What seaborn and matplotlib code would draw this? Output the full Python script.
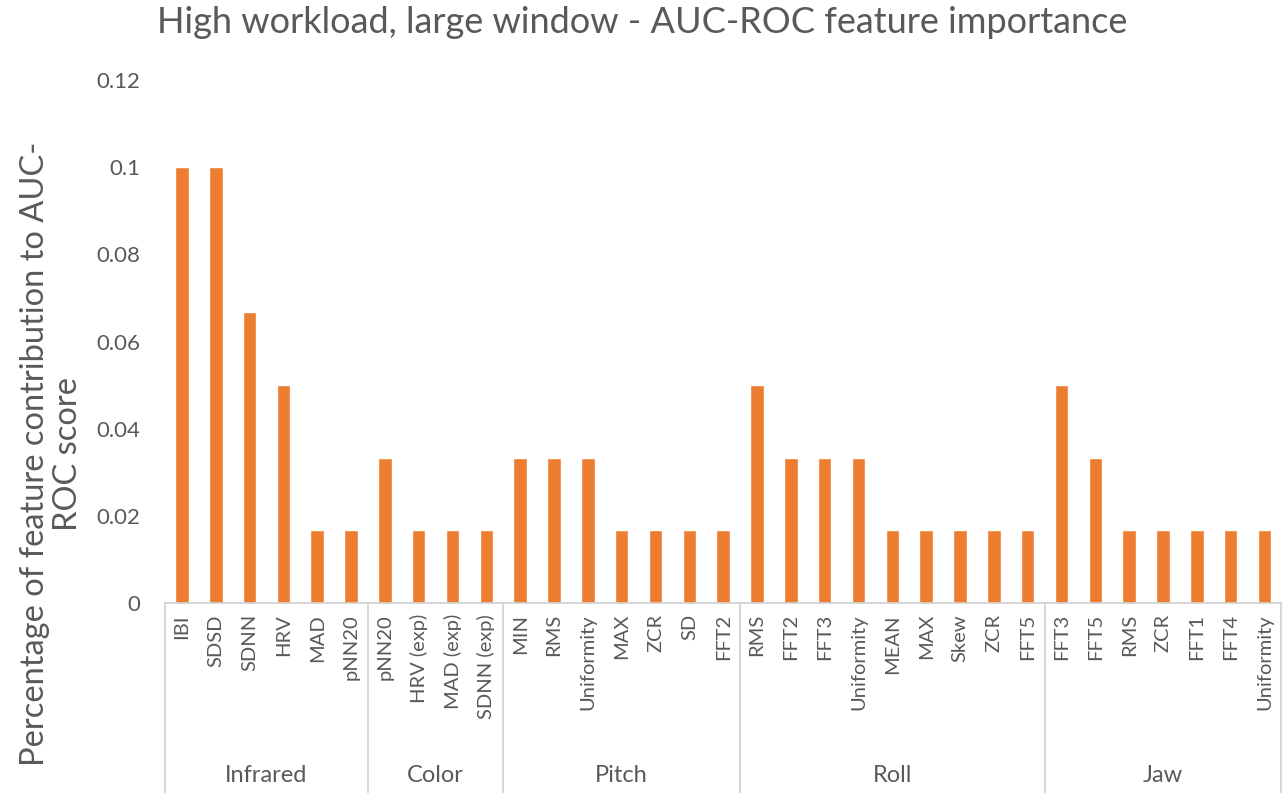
import pandas as pd
import matplotlib
matplotlib.use('Agg')
import matplotlib.pyplot as plt
import seaborn as sns

groups = ['Infrared', 'Color', 'Pitch', 'Roll', 'Jaw']
features = [
    ['IBI', 'SDSD', 'SDNN', 'HRV', 'MAD', 'pNN20'],
    ['pNN20', 'HRV (exp)', 'MAD (exp)', 'SDNN (exp)'],
    ['MIN', 'RMS', 'Uniformity', 'MAX', 'ZCR', 'SD', 'FFT2'],
    ['RMS', 'FFT2', 'FFT3', 'Uniformity', 'MEAN', 'MAX', 'Skew', 'ZCR', 'FFT5'],
    ['FFT3', 'FFT5', 'RMS', 'ZCR', 'FFT1', 'FFT4', 'Uniformity'],
]
values = [
    [0.1, 0.1, 0.0667, 0.05, 0.0167, 0.0167],
    [0.0333, 0.0167, 0.0167, 0.0167],
    [0.0333, 0.0333, 0.0333, 0.0167, 0.0167, 0.0167, 0.0167],
    [0.05, 0.0333, 0.0333, 0.0333, 0.0167, 0.0167, 0.0167, 0.0167, 0.0167],
    [0.05, 0.0333, 0.0167, 0.0167, 0.0167, 0.0167, 0.0167],
]

rows = []
for g, fs, vs in zip(groups, features, values):
    for f, v in zip(fs, vs):
        rows.append({'group': g, 'feature': f, 'key': g + '|' + f, 'value': v})
df = pd.DataFrame(rows)

sns.set_style('white')
plt.rcParams['font.family'] = ['Lato', 'DejaVu Sans']
grey = '#595959'
line_grey = '#d0d0d0'

fig = plt.figure(figsize=(12.84, 7.93), dpi=100)
ax = fig.add_axes([0.1285, 0.2396, 0.8695, 0.6594])

sns.barplot(data=df, x='key', y='value', color='#ED7D31', width=0.4,
            saturation=1, ax=ax)

ax.set_ylim(0, 0.12)
ax.set_xlim(-0.5, len(df) - 0.5)
ax.set_yticks([0, 0.02, 0.04, 0.06, 0.08, 0.1, 0.12])
ax.set_yticklabels(['0', '0.02', '0.04', '0.06', '0.08', '0.1', '0.12'])
ax.set_xticks(range(len(df)))
ax.set_xticklabels(df['feature'], rotation=90, va='top', ha='center')
ax.tick_params(axis='y', labelsize=16, colors=grey, length=0, pad=18)
ax.tick_params(axis='x', labelsize=14.5, colors=grey, length=0, pad=8)
ax.set_xlabel('')
ax.set_ylabel('')

for s in ['top', 'right', 'left']:
    ax.spines[s].set_visible(False)
ax.spines['bottom'].set_color(line_grey)
ax.spines['bottom'].set_linewidth(1.2)

# group separators and labels below the axis
sizes = [len(fs) for fs in features]
bounds = [-0.5]
for n in sizes:
    bounds.append(bounds[-1] + n)
trans = ax.get_xaxis_transform()
for b in bounds:
    ax.plot([b, b], [0, -0.365], transform=trans, color=line_grey,
            lw=1.2, clip_on=False)
for i, g in enumerate(groups):
    mid = (bounds[i] + bounds[i + 1]) / 2
    ax.text(mid, -0.33, g, transform=trans, ha='center', va='center',
            fontsize=17, color=grey)

fig.text(0.5, 0.972, 'High workload, large window - AUC-ROC feature importance',
         ha='center', va='center', fontsize=26, color=grey)
fig.text(0.04, 0.428, 'Percentage of feature contribution to AUC-\nROC score',
         rotation=90, ha='center', va='center', fontsize=23.5, color=grey,
         multialignment='center', linespacing=1.15)

fig.savefig('out.png', dpi=100)
